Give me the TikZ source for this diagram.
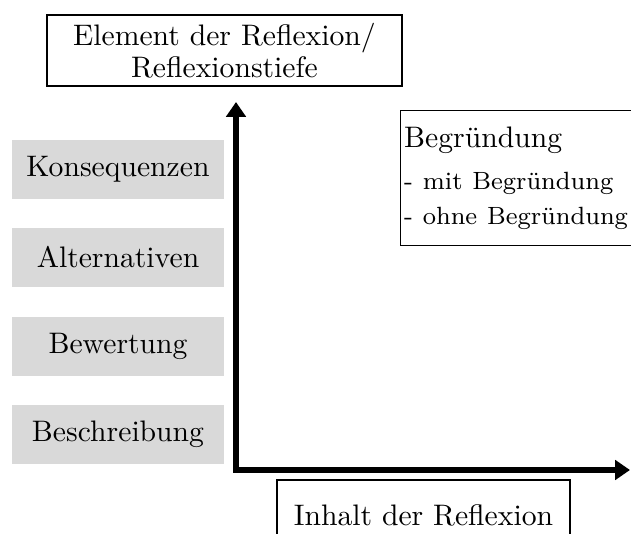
\documentclass[tikz,border=0pt]{standalone}
\usetikzlibrary{arrows.meta}

\definecolor{hellgrau}{gray}{0.85}
\newcommand\klein{\fontsize{8.4pt}{9pt}\selectfont}
\tikzset{
  stufe/.style={fill=hellgrau, minimum width=71.4pt, minimum height=19.9pt, inner sep=0pt},
  rahmen/.style={draw, inner sep=0pt},
  achse/.style={line width=2pt, {Triangle[length=5pt,width=6.5pt]}-{Triangle[length=5pt,width=6.5pt]}}
}

\begin{document}
\begin{tikzpicture}[x=0.337pt, y=-0.337pt]
\useasboundingbox (0,0) rectangle (631,534);

% Elemente der Reflexion
\node[stufe] (kons) at (118,169.5) {Konsequenzen};
\node[stufe] (alt)  at (118,257.5) {Alternativen};
\node[stufe] (bew)  at (118,346.5) {Bewertung};
\node[stufe] (besch) at (118,434.5) {Beschreibung};

% Achsen
\coordinate (O) at (236,470);
\coordinate (ytip) at (236,102);
\coordinate (xtip) at (630,470);
\draw[achse] (ytip) -- (O) -- (xtip);

\node[rahmen, minimum width=119.6pt, minimum height=23.9pt, align=center] (elem) at (224.5,50.5)
  {Element der Reflexion/\\[-1.2pt]Reflexionstiefe};
\node[rahmen, minimum width=98.7pt, minimum height=23.6pt] (inhalt) at (423.5,515) {Inhalt der Reflexion};

\node[rahmen, anchor=north west, inner xsep=1.2pt, text width=80pt, minimum height=45.5pt, align=left] (begr) at (400,110)
  {Begründung\\[2.2pt]{\klein - mit Begründung}\\[-0.4pt]{\klein - ohne Begründung}};

\end{tikzpicture}
\end{document}
